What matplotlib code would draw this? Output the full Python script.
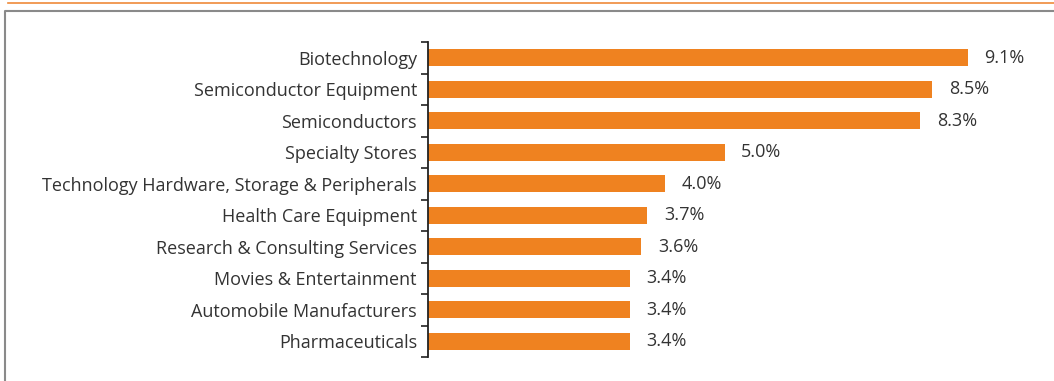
import matplotlib.pyplot as plt
from matplotlib.lines import Line2D
import numpy as np

categories = [
    "Biotechnology",
    "Semiconductor Equipment",
    "Semiconductors",
    "Specialty Stores",
    "Technology Hardware, Storage & Peripherals",
    "Health Care Equipment",
    "Research & Consulting Services",
    "Movies & Entertainment",
    "Automobile Manufacturers",
    "Pharmaceuticals",
]
weights = [9.1, 8.5, 8.3, 5.0, 4.0, 3.7, 3.6, 3.4, 3.4, 3.4]

bar_color = "#ef8220"
text_color = "#333333"

plt.rcParams['font.family'] = ['Open Sans', 'DejaVu Sans']

fig = plt.figure(figsize=(10.54, 3.81), dpi=100)
ax = fig.add_axes([428 / 1054, 1 - 357 / 381, 593 / 1054, 315 / 381])

y = np.arange(len(categories))
ax.barh(y, weights, height=0.55, color=bar_color)
for yi, w in zip(y, weights):
    ax.text(w + 0.28, yi, f"{w:.1f}%", va='center', ha='left',
            fontsize=13, color=text_color)

ax.set_ylim(len(categories) - 0.5, -0.5)
ax.set_xlim(0, 10)
ax.set_yticks(y)
ax.set_yticklabels(categories, fontsize=13, color=text_color)
ax.set_yticks(np.arange(len(categories) + 1) - 0.5, minor=True)
ax.tick_params(axis='y', which='major', length=0, pad=8)
ax.tick_params(axis='y', which='minor', length=5, width=1.2, color='#222222')
ax.set_xticks([])
for side in ['top', 'right', 'bottom']:
    ax.spines[side].set_visible(False)
ax.spines['left'].set_linewidth(1.3)
ax.spines['left'].set_color('#222222')

# thin orange rule across the top, grey frame below it
fig.add_artist(Line2D([8 / 1054, 1], [1 - 3 / 381] * 2, color='#ef8a3a',
                      lw=1.2, transform=fig.transFigure))
fig.add_artist(Line2D([5 / 1054, 5 / 1054, 1], [0, 1 - 11 / 381, 1 - 11 / 381],
                      color='#8a8a8a', lw=1.5, transform=fig.transFigure))

fig.savefig("out.png", dpi=100)
